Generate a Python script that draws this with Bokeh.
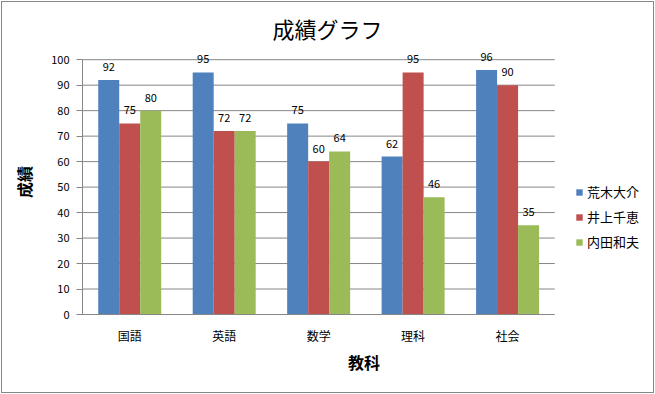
from bokeh.plotting import figure
from bokeh.layouts import column
from bokeh.models import ColumnDataSource, Legend, LegendItem, Title, FixedTicker, Range1d
from bokeh.transform import dodge
from bokeh.core.properties import value
from bokeh.embed import file_html
from bokeh.resources import INLINE

title = "成績グラフ"
subjects = ["国語", "英語", "数学", "理科", "社会"]
names = ["荒木大介", "井上千恵", "内田和夫"]
araki = [92, 95, 75, 62, 96]
inoue = [75, 72, 60, 95, 90]
uchida = [80, 72, 64, 46, 35]
colors = ["#4F81BD", "#C0504D", "#9BBB59"]
y_ticks = list(range(0, 101, 10))

FONT = "Noto Sans CJK JP"
GRAY = "#868686"
W, H = 651, 390

centers = [i + 0.5 for i in range(len(subjects))]
n_cat = len(subjects)
src = ColumnDataSource(dict(
    x=centers, a=araki, b=inoue, c=uchida,
    at=[str(v) for v in araki], bt=[str(v) for v in inoue], ct=[str(v) for v in uchida],
))

p = figure(x_range=Range1d(0, 5.96), y_range=Range1d(0, 104), width=W, height=H,
           output_backend="svg", toolbar_location=None,
           min_border_left=80, min_border_right=8, min_border_top=47, min_border_bottom=78)
p.outline_line_color = None
p.background_fill_color = "white"
p.border_fill_color = "white"

p.title = Title(text=title, text_font=FONT, text_font_size="22px", text_font_style="normal",
                align="left", offset=190, standoff=11, text_color="black")

# horizontal gridlines limited to the category area
p.segment(x0=[0] * len(y_ticks), x1=[n_cat] * len(y_ticks), y0=y_ticks, y1=y_ticks,
          line_color=GRAY, line_width=1)

bw = 0.2223
series = [("a", "at"), ("b", "bt"), ("c", "ct")]
offsets = [-bw, 0, bw]
items = []
for (col, tcol), off, colr, nm in zip(series, offsets, colors, names):
    r = p.vbar(x=dodge("x", off), top=col, width=bw, bottom=0,
               source=src, fill_color=colr, line_color=None)
    p.text(x=dodge("x", off), y=col, text=tcol, source=src,
           text_align="center", text_baseline="alphabetic", y_offset=-13,
           text_font=value(FONT), text_font_size="11px", text_color="black")
    items.append(LegendItem(label=nm, renderers=[r]))

# y axis
p.yaxis.ticker = FixedTicker(ticks=y_ticks)
p.yaxis.bounds = (0, 100)
p.yaxis.axis_line_color = GRAY
p.yaxis.major_tick_line_color = GRAY
p.yaxis.major_tick_out = 6
p.yaxis.major_tick_in = 0
p.yaxis.minor_tick_line_color = None
p.yaxis.major_label_text_font = FONT
p.yaxis.major_label_text_font_size = "11px"
p.yaxis.major_label_text_color = "black"
p.yaxis.major_label_standoff = 7
p.yaxis.axis_label = "成績"
p.yaxis.axis_label_text_font = FONT
p.yaxis.axis_label_text_font_size = "16px"
p.yaxis.axis_label_text_font_style = "bold"
p.yaxis.axis_label_text_color = "black"
p.yaxis.axis_label_standoff = 12

# x axis
p.xaxis.ticker = FixedTicker(ticks=centers)
p.xaxis.major_label_overrides = {c: s for c, s in zip(centers, subjects)}
p.xaxis.bounds = (0, n_cat)
p.xaxis.axis_line_color = GRAY
p.xaxis.major_tick_line_color = None
p.xaxis.major_tick_out = 0
p.xaxis.major_tick_in = 0
p.xaxis.minor_tick_line_color = None
p.xaxis.major_label_text_font = FONT
p.xaxis.major_label_text_font_size = "12px"
p.xaxis.major_label_text_color = "black"
p.xaxis.major_label_standoff = 12
p.xaxis.axis_label = "教科"
p.xaxis.axis_label_text_font = FONT
p.xaxis.axis_label_text_font_size = "16px"
p.xaxis.axis_label_text_font_style = "bold"
p.xaxis.axis_label_text_color = "black"
p.xaxis.axis_label_standoff = 3

p.xgrid.grid_line_color = None
p.ygrid.grid_line_color = None

legend = Legend(items=items, location=(493, 63), orientation="vertical",
                label_text_font=FONT, label_text_font_size="13px", label_text_color="black",
                glyph_width=8, glyph_height=8, spacing=6, label_standoff=4,
                label_height=18,
                border_line_color=None, background_fill_alpha=0, padding=0, margin=0)
p.add_layout(legend, "center")

layout = column(p, styles={"border": "1px solid #868686", "margin-left": "1px", "margin-top": "1px"})

open("out.html", "w").write(file_html(layout, INLINE))
